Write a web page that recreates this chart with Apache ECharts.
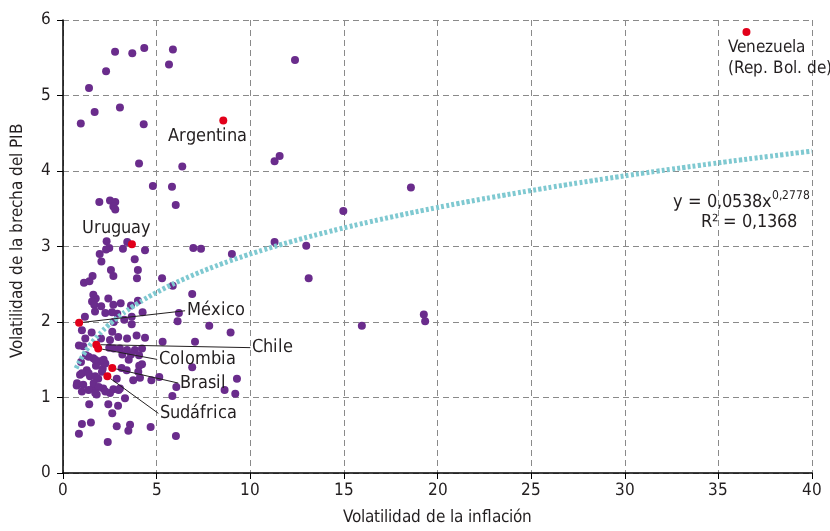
<!DOCTYPE html>
<html>
<head>
<meta charset="utf-8">
<script src="https://cdn.jsdelivr.net/npm/echarts@6/dist/echarts.min.js"></script>
<style>
  @font-face {
    font-family: 'ChartNarrow';
    src: local('Liberation Sans Narrow'), local('LiberationSansNarrow-Regular'),
         local('LiberationSansNarrow'), local('DejaVu Sans Condensed'), local('DejaVuSansCondensed');
  }
  html, body { margin: 0; padding: 0; background: #fff; }
  #chart { width: 830px; height: 531px; }
</style>
</head>
<body>
<div id="chart"></div>
<script>
// Inflation volatility (x) vs. output-gap volatility (y), by economy.

// Highlighted economies
const namedCountries = ['Venezuela\n(Rep. Bol. de)', 'Argentina', 'Uruguay', 'México', 'Chile', 'Colombia', 'Brasil', 'Sudáfrica'];
const namedInflVol  = [36.5, 8.56, 3.68, 0.86, 1.78, 1.88, 2.63, 2.37];
const namedGapVol   = [5.84, 4.67, 3.03, 1.99, 1.70, 1.65, 1.39, 1.28];

// Remaining economies
const otherInflVol = [
  2.78, 3.70, 4.34, 5.87, 5.66, 2.30, 1.39, 1.69, 3.04, 0.95, 4.31, 4.06, 6.37, 12.39, 11.57, 11.30,
  18.58, 14.97, 4.80, 5.82, 6.02, 1.94, 2.51, 2.79, 2.69, 2.79, 2.33, 3.43, 11.30, 12.99,
  2.47, 2.30, 3.20, 4.38, 6.96, 7.37, 9.02, 1.96, 2.05, 3.83, 4.00, 2.56, 2.69, 3.95, 1.58, 1.12,
  1.41, 5.29, 5.86, 6.90, 13.12, 1.62, 1.75, 1.55, 2.42, 1.67, 2.04, 2.69, 3.08, 3.63, 4.00, 1.71,
  2.26, 2.90, 3.27, 3.67, 3.67, 6.19, 6.12, 7.81, 1.17, 19.27, 19.34, 15.96, 4.25, 2.71,
  8.95, 7.05, 5.32, 4.38, 3.93, 1.01, 1.53, 2.63, 2.95, 2.03, 2.51, 0.85, 1.08, 2.47, 3.04, 3.84,
  3.63, 3.17, 4.06, 1.23, 1.62, 1.98, 0.96, 1.76, 2.12, 3.13, 4.07, 4.02, 3.40, 1.27, 6.90, 0.91,
  1.44, 1.88, 2.87, 3.75, 4.11, 4.72, 5.14, 9.29, 0.73, 1.08, 1.62, 2.15, 2.69, 3.04, 1.80, 2.51,
  6.05, 5.84, 8.63, 9.20, 3.31, 1.40, 2.42, 2.94, 2.63, 1.01, 1.49, 0.85, 2.87, 3.58, 3.49, 4.68,
  6.03, 2.39, 1.19, 3.42, 1.72, 2.26, 1.01, 1.37, 1.72, 2.08, 0.75, 1.64, 1.91, 1.01, 1.37, 1.72,
  2.26, 2.97, 4.22, 2.62, 2.71, 3.42, 4.22, 1.37, 2.17, 3.51
];
const otherGapVol = [
  5.58, 5.56, 5.63, 5.61, 5.41, 5.32, 5.10, 4.78, 4.84, 4.63, 4.62, 4.10, 4.06, 5.47, 4.20, 4.13,
  3.78, 3.47, 3.80, 3.79, 3.55, 3.59, 3.61, 3.59, 3.53, 3.49, 3.07, 3.06, 3.06, 3.01,
  2.98, 2.96, 2.97, 2.95, 2.98, 2.97, 2.90, 2.90, 2.80, 2.83, 2.69, 2.69, 2.61, 2.58, 2.61, 2.52,
  2.54, 2.58, 2.48, 2.37, 2.58, 2.36, 2.31, 2.27, 2.31, 2.23, 2.21, 2.23, 2.25, 2.22, 2.28, 2.14,
  2.12, 2.11, 2.03, 2.07, 1.97, 2.12, 2.01, 1.95, 2.07, 2.10, 2.01, 1.95, 2.13, 2.00,
  1.86, 1.74, 1.74, 1.79, 1.82, 1.89, 1.86, 1.87, 1.80, 1.78, 1.76, 1.69, 1.68, 1.66, 1.65, 1.63,
  1.57, 1.57, 1.56, 1.56, 1.52, 1.48, 1.47, 1.42, 1.38, 1.39, 1.42, 1.34, 1.36, 1.36, 1.40, 1.30,
  1.28, 1.25, 1.25, 1.23, 1.26, 1.23, 1.27, 1.25, 1.16, 1.17, 1.13, 1.12, 1.11, 1.12, 1.04, 1.06,
  1.14, 1.02, 1.10, 1.05, 0.99, 0.91, 0.91, 0.89, 0.79, 0.65, 0.67, 0.52, 0.62, 0.64, 0.56, 0.61,
  0.49, 0.41, 1.78, 1.78, 1.50, 1.45, 1.32, 1.32, 1.28, 1.34, 1.19, 1.19, 1.14, 1.08, 1.10, 1.06,
  1.08, 1.10, 1.44, 2.13, 1.65, 1.63, 1.65, 1.54, 1.50, 1.50
];

// Power-law fit y = a·x^b drawn across the data range
const trendCoef = 1.53;
const trendExp = 0.2778;
const trendRange = [0.7, 40];

// Tick values
const xTicks = [0, 5, 10, 15, 20, 25, 30, 35, 40];
const yTicks = [0, 1, 2, 3, 4, 5, 6];

const FONT = "'ChartNarrow', 'Liberation Sans Narrow', 'Roboto', 'Liberation Sans', sans-serif";
const INK = '#231f20';
const PURPLE = '#6a2c8c';
const RED = '#e2001a';
const TEAL = '#7fc9d1';

// Label placement for the highlighted economies (pixel offsets from the dot)
const labelPlacement = {
  'Venezuela\n(Rep. Bol. de)': { position: 'bottom', align: 'left', dx: -20, dy: 1, line: false, size: 16.5 },
  'Argentina': { position: 'bottom', align: 'center', dx: -16, dy: 2, line: false, size: 17.5 },
  'Uruguay':   { position: 'top', align: 'center', dx: -15, dy: -1, line: false, size: 17.5 },
  'México':    { position: 'right', align: 'left', dx: 102, dy: -12, line: true, size: 17.5 },
  'Chile':     { position: 'right', align: 'left', dx: 150, dy: 3, line: true, size: 17.5 },
  'Colombia':  { position: 'right', align: 'left', dx: 55, dy: 11, line: true, size: 17.5 },
  'Brasil':    { position: 'right', align: 'left', dx: 62, dy: 15, line: true, size: 17.5 },
  'Sudáfrica': { position: 'right', align: 'left', dx: 47, dy: 37, line: true, size: 17.5 }
};

const otherPoints = otherInflVol.map((x, i) => [x, otherGapVol[i]]);

const namedPoints = namedCountries.map((name, i) => {
  const p = labelPlacement[name];
  return {
    name: name,
    value: [namedInflVol[i], namedGapVol[i]],
    label: {
      show: true,
      formatter: '{b}',
      position: p.position,
      align: p.align,
      distance: 0,
      padding: [0, 2],
      fontSize: p.size,
      lineHeight: 21
    },
    labelLine: { show: p.line, length2: 0, lineStyle: { color: INK, width: 1, opacity: 1 } }
  };
});

const trendPoints = [];
for (let k = 0; k <= 80; k++) {
  const x = trendRange[0] + (trendRange[1] - trendRange[0]) * Math.pow(k / 80, 1.6);
  trendPoints.push([x, trendCoef * Math.pow(x, trendExp)]);
}

function draw() {
  const chart = echarts.init(document.getElementById('chart'), null, { renderer: 'canvas' });

  chart.setOption({
    animation: false,
    backgroundColor: '#ffffff',
    textStyle: { fontFamily: FONT, color: INK },
    grid: { left: 63, right: 18, top: 20, bottom: 56, containLabel: false },
    xAxis: {
      type: 'value',
      min: xTicks[0],
      max: xTicks[xTicks.length - 1],
      interval: xTicks[1] - xTicks[0],
      name: 'Volatilidad de la inflación',
      nameLocation: 'middle',
      nameGap: 36,
      nameTextStyle: { fontFamily: FONT, fontSize: 16.5, color: INK },
      axisLine: { show: true, onZero: false, lineStyle: { color: '#000', width: 1.5 } },
      axisTick: { show: true, inside: false, length: 6, lineStyle: { color: '#000', width: 1 } },
      axisLabel: { fontFamily: FONT, fontSize: 17, color: INK, margin: 9 },
      splitLine: { show: true, lineStyle: { color: '#8a8a8a', type: [6, 4], width: 1 } }
    },
    yAxis: {
      type: 'value',
      min: yTicks[0],
      max: yTicks[yTicks.length - 1],
      interval: yTicks[1] - yTicks[0],
      name: 'Volatilidad de la brecha del PIB',
      nameLocation: 'middle',
      nameGap: 37,
      nameTextStyle: { fontFamily: FONT, fontSize: 16.5, color: INK, padding: [0, 0, 0, 12] },
      axisLine: { show: true, onZero: false, lineStyle: { color: '#000', width: 1.5 } },
      axisTick: { show: true, inside: false, length: 6, lineStyle: { color: '#000', width: 1 } },
      axisLabel: { fontFamily: FONT, fontSize: 17, color: INK, margin: 12 },
      splitLine: { show: true, lineStyle: { color: '#8a8a8a', type: [6, 4], width: 1 } }
    },
    graphic: [
      {
        type: 'text',
        right: 20,
        top: 190,
        z: 10,
        style: {
          text: '{m|y = 0,0538x}{s|0,2778}',
          fill: INK,
          rich: {
            m: { fontFamily: FONT, fontSize: 17.5, lineHeight: 24, fill: INK },
            s: { fontFamily: FONT, fontSize: 11.5, lineHeight: 14, verticalAlign: 'top', fill: INK }
          }
        }
      },
      {
        type: 'text',
        right: 33,
        top: 213,
        z: 10,
        style: {
          text: 'R² = 0,1368',
          fill: INK,
          font: "17.5px " + FONT
        }
      }
    ],
    series: [
      {
        name: 'Otras economías',
        type: 'scatter',
        symbol: 'circle',
        symbolSize: 8,
        itemStyle: { color: PURPLE, opacity: 1 },
        data: otherPoints,
        z: 2
      },
      {
        name: 'Tendencia',
        type: 'line',
        data: trendPoints,
        showSymbol: false,
        smooth: true,
        lineStyle: { color: TEAL, width: 5, type: [3, 2.2], cap: 'butt' },
        z: 3,
        silent: true
      },
      {
        name: 'Economías destacadas',
        type: 'scatter',
        symbol: 'circle',
        symbolSize: 8,
        itemStyle: { color: RED, opacity: 1 },
        label: { fontFamily: FONT, fontSize: 17.5, color: INK },
        labelLayout: function (params) {
          const p = labelPlacement[namedCountries[params.dataIndex]];
          return { dx: p.dx, dy: p.dy };
        },
        data: namedPoints,
        z: 4
      }
    ]
  });
}

if (document.fonts && document.fonts.load) {
  document.fonts.load("18px 'ChartNarrow'").then(draw, draw);
} else {
  draw();
}
</script>
</body>
</html>
